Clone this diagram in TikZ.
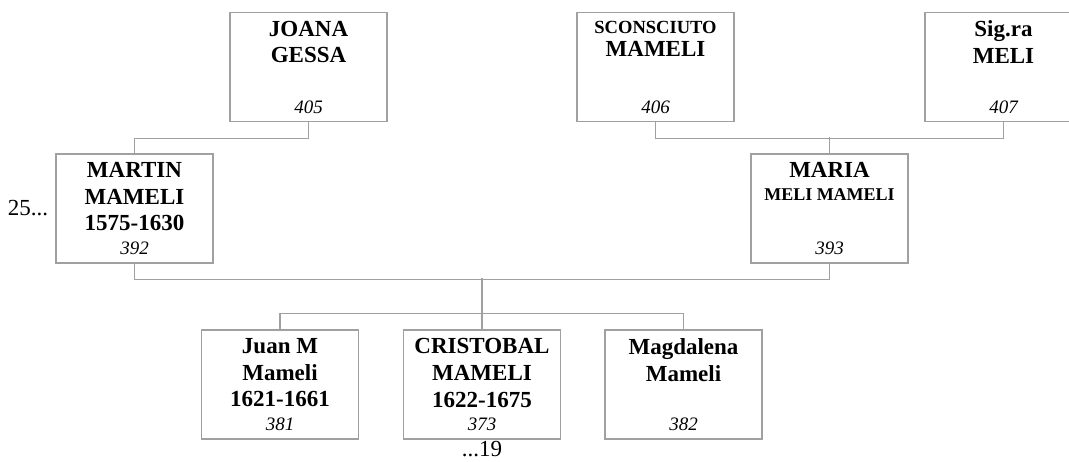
\documentclass[tikz,border=0pt]{standalone}
\usepackage{fontspec}
\setmainfont{Liberation Serif}
\usetikzlibrary{positioning, calc}
\definecolor{boxgray}{HTML}{A0A0A0}
\definecolor{linkgray}{HTML}{A0A0A0}
\tikzstyle{person} = [rectangle, draw=boxgray, line width=0.9pt, minimum width=117.75pt, minimum height=81.75pt, inner sep=0pt]
\tikzstyle{pname} = [anchor=north, align=center, inner sep=0pt, font=\bfseries\fontsize{17.25}{20}\selectfont]
\tikzstyle{pnum} = [anchor=base, inner sep=0pt, font=\itshape\fontsize{14.25}{17}\selectfont]
\tikzstyle{link} = [draw=linkgray, line width=0.9pt]
\tikzstyle{gen} = [inner sep=0pt, font=\fontsize{17.25}{20}\selectfont]

\begin{document}
\begin{tikzpicture}[x=0.75pt, y=-0.75pt]
    \useasboundingbox (0,0) rectangle (1069,461);

    % Grandparents
    \node[person] (joana) at (308.5,67) {};
    \node[person] (sconosciuto) at (655.5,67) {};
    \node[person] (sigra) at (1003.5,67) {};

    % Parents
    \node[person] (martin) at (134.5,208.5) {};
    \node[person] (maria) at (829.5,208.5) {};

    % Children
    \node[person] (juan) at (280,384.5) {};
    \node[person] (cristobal) at (482,384.5) {};
    \node[person] (magdalena) at (683.5,384.5) {};

    % Names
    \node[pname] (joananame) at ([yshift=-6.6pt]joana.north) {JOANA\\GESSA};
    \node[pname] (sconosciutoname) at ([yshift=-6.6pt]sconosciuto.north) {{\fontsize{13.9}{16}\selectfont SCONSCIUTO}\\[-2.25pt]MAMELI};
    \node[pname] (sigraname) at ([yshift=-6.6pt]sigra.north) {Sig.ra\\MELI};
    \node[pname] (martinname) at ([yshift=-6.6pt]martin.north) {MARTIN\\MAMELI\\1575-1630};
    \node[pname] (marianame) at ([yshift=-6.6pt]maria.north) {MARIA\\[-3pt]{\fontsize{13.5}{16}\selectfont MELI MAMELI}};
    \node[pname] (juanname) at ([yshift=-6.6pt]juan.north) {Juan M\\Mameli\\1621-1661};
    \node[pname] (cristobalname) at ([yshift=-6.6pt]cristobal.north) {CRISTOBAL\\MAMELI\\1622-1675};
    \node[pname] (magdalenaname) at ([yshift=-6.6pt]magdalena.north) {Magdalena\\Mameli};

    % Numbers
    \node[pnum] (joananum) at ([yshift=6.75pt]joana.south) {405};
    \node[pnum] (sconosciutonum) at ([yshift=6.75pt]sconosciuto.south) {406};
    \node[pnum] (sigranum) at ([yshift=6.75pt]sigra.south) {407};
    \node[pnum] (martinnum) at ([yshift=6.75pt]martin.south) {392};
    \node[pnum] (marianum) at ([yshift=6.75pt]maria.south) {393};
    \node[pnum] (juannum) at ([yshift=6.75pt]juan.south) {381};
    \node[pnum] (cristobalnum) at ([yshift=6.75pt]cristobal.south) {373};
    \node[pnum] (magdalenanum) at ([yshift=6.75pt]magdalena.south) {382};

    % Generations
    \node[gen, left=5.25pt of martin] (gen25) {25...};
    \node[gen, below=1pt of cristobal] (gen19) {...19};

    % Links
    \draw[link] (joana.south) -- ++(0,16) -| (martin.north);
    \draw[link] (sconosciuto.south) -- ++(0,16) -| (sigra.south);
    \draw[link] (maria.north) -- ++(0,-16);
    \draw[link] (martin.south) -- ++(0,16) -| (maria.south);
    \draw[link] (cristobal.north) -- ++(0,-51);
    \draw[link] (juan.north) -- ++(0,-16) -| (magdalena.north);
\end{tikzpicture}
\end{document}
